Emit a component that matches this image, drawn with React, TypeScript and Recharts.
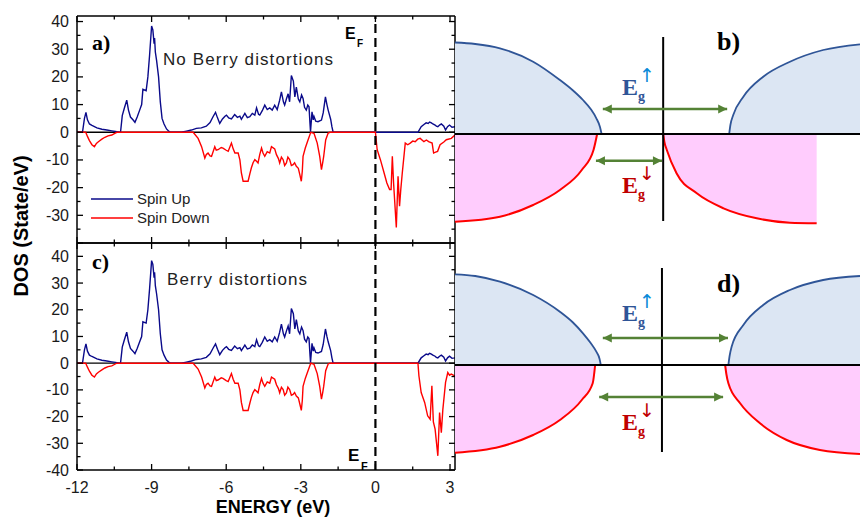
import { LineChart, Line, XAxis, YAxis, ReferenceLine, ComposedChart, Area } from "recharts"

type Pt = [number, number]

const SANS = "Liberation Sans, Arial, sans-serif"
const SERIF = "Liberation Serif, Times New Roman, serif"

const energyDomain: [number, number] = [-12, 3.2]
const energyTicks = [-12, -10.5, -9, -7.5, -6, -4.5, -3, -1.5, 0, 1.5, 3]
const dosTicks = [-40, -35, -30, -25, -20, -15, -10, -5, 0, 5, 10, 15, 20, 25, 30, 35, 40]
const zeroLevel: Pt[] = [[-12, 0], [3.2, 0]]

// spin up, valence part (same in both panels)
const upValence: Pt[] = [
  [-12, 0], [-11.78, 0], [-11.7, 5], [-11.64, 7.2], [-11.58, 4.5], [-11.5, 3], [-11.4, 2.5], [-11.2, 1.6],
  [-11.0, 1.1], [-10.8, 0.8], [-10.6, 0.5], [-10.45, 0.3], [-10.3, 0], [-10.25, 0], [-10.18, 6], [-10.1, 8.6],
  [-10.0, 11.6], [-9.93, 8], [-9.85, 5.5], [-9.75, 4.5], [-9.67, 3.6], [-9.58, 5.5], [-9.48, 8], [-9.4, 10],
  [-9.35, 15.5], [-9.22, 15], [-9.15, 20], [-9.08, 28], [-9.0, 38.4], [-8.95, 37], [-8.9, 32], [-8.88, 34],
  [-8.85, 29], [-8.8, 26], [-8.72, 20], [-8.65, 11], [-8.58, 5], [-8.5, 3], [-8.4, 1.2], [-8.3, 0.3], [-8.25, 0],
  [-7.8, 0], [-7.6, 0.4], [-7.4, 0.8], [-7.2, 1.4], [-7.0, 1.6], [-6.8, 2.2], [-6.65, 3.5], [-6.53, 5.6],
  [-6.43, 7.2], [-6.35, 5.2], [-6.26, 3.2], [-6.15, 4.8], [-6.05, 5.8], [-5.99, 6.2], [-5.9, 5.2], [-5.79, 4.8],
  [-5.66, 6.4], [-5.55, 5.4], [-5.45, 5.8], [-5.39, 4.7], [-5.25, 6.8], [-5.15, 5.3], [-5.05, 5.6], [-4.95, 6.8],
  [-4.85, 6.2], [-4.78, 8.8], [-4.7, 6.5], [-4.65, 6.2], [-4.55, 7.8], [-4.45, 9.8], [-4.35, 8.2], [-4.25, 8.8],
  [-4.15, 8], [-4.05, 9.8], [-3.95, 8.2], [-3.85, 11.6], [-3.78, 14.6], [-3.7, 11], [-3.65, 9.8], [-3.58, 12],
  [-3.51, 13.9], [-3.45, 11], [-3.38, 20.5], [-3.3, 18.5], [-3.24, 12.8], [-3.18, 16.3], [-3.1, 12], [-3.04, 11],
  [-2.97, 13.5], [-2.91, 12.2], [-2.85, 9], [-2.78, 8], [-2.72, 9.8], [-2.67, 9.2], [-2.63, 3], [-2.61, 0.2],
  [-2.57, 5], [-2.55, 7.4], [-2.5, 4.5], [-2.47, 5.7], [-2.4, 4], [-2.31, 3.8], [-2.17, 4.4], [-2.1, 7],
  [-2.01, 12.8], [-1.95, 10], [-1.9, 8], [-1.8, 4.7], [-1.75, 2], [-1.7, 0],
]

// spin up, conduction part
const upConduction: Pt[] = [
  [1.71, 0], [1.84, 2.0], [1.95, 2.8], [2.04, 3.4], [2.12, 3.2], [2.18, 3.7], [2.25, 3.4], [2.31, 3.0],
  [2.4, 2.6], [2.45, 2.2], [2.51, 2.0], [2.58, 2.6], [2.65, 3.0], [2.75, 2.2], [2.82, 0.8], [2.9, 2.0],
  [2.98, 2.6], [3.08, 1.8], [3.2, 2.0],
]

// spin down, valence part
const downValence: Pt[] = [
  [-12, 0], [-11.65, 0], [-11.58, -1.5], [-11.5, -3], [-11.4, -4.5], [-11.3, -5.2], [-11.22, -4], [-11.14, -3.4],
  [-11.0, -2.5], [-10.88, -1.8], [-10.75, -1.3], [-10.6, -1], [-10.48, -0.4], [-10.4, 0], [-7.33, 0],
  [-7.13, -2.2], [-6.99, -5.2], [-6.86, -9.3], [-6.8, -8], [-6.73, -7.5], [-6.65, -8.5], [-6.59, -8.7],
  [-6.46, -5.2], [-6.4, -6.5], [-6.33, -6.3], [-6.2, -5.5], [-6.13, -5.7], [-6.0, -6.5], [-5.92, -6.9],
  [-5.79, -3.9], [-5.72, -6], [-5.65, -7.5], [-5.52, -7.5], [-5.45, -10], [-5.39, -14.7], [-5.32, -17.7],
  [-5.12, -17.7], [-5.05, -15], [-4.99, -12.9], [-4.92, -11], [-4.85, -9.9], [-4.78, -10.5], [-4.72, -11.1],
  [-4.65, -8], [-4.58, -5.7], [-4.52, -7.5], [-4.45, -8.7], [-4.35, -7], [-4.25, -7.5], [-4.18, -5.2],
  [-4.05, -6], [-3.98, -8.1], [-3.9, -9.5], [-3.85, -11.1], [-3.78, -9], [-3.71, -9.9], [-3.65, -12],
  [-3.58, -11.1], [-3.52, -9], [-3.45, -9.9], [-3.38, -12], [-3.31, -11.7], [-3.25, -11], [-3.18, -12.3],
  [-3.1, -13], [-3.04, -15.3], [-2.98, -17.7], [-2.94, -14], [-2.91, -8.7], [-2.82, -5.7], [-2.71, -2.8],
  [-2.6, 0], [-2.47, -0.4], [-2.34, -3.9], [-2.24, -8.7], [-2.17, -13.5], [-2.12, -11], [-2.08, -8.7],
  [-2.0, -2.8], [-1.9, -0.3], [-1.83, 0],
]

// spin down, conduction: no distortion (a) vs Berry distortion (c)
const downConductionA: Pt[] = [
  [0, 0], [0.07, -6.3], [0.2, -9.9], [0.33, -14.1], [0.46, -18.3], [0.57, -20.7], [0.63, -20.7], [0.68, -8.7],
  [0.73, -18.3], [0.84, -34.4], [0.91, -15.9], [0.97, -26.7], [1.02, -20.7], [1.08, -14.7], [1.2, -3.9],
  [1.3, -4.5], [1.4, -3.9], [1.5, -3.2], [1.6, -3.4], [1.7, -2.5], [1.8, -2.2], [1.95, -3.4], [2.05, -2.8],
  [2.14, -3.4], [2.28, -3.9], [2.34, -7.5], [2.42, -7.2], [2.5, -6.9], [2.6, -4.5], [2.75, -3.5], [2.85, -2.7],
  [3.05, -2.2], [3.2, -1],
]
const downConductionC: Pt[] = [
  [1.71, 0], [1.75, -4.8], [1.84, -11], [1.98, -14.7], [2.1, -19.7], [2.2, -21], [2.27, -8.5], [2.33, -22],
  [2.4, -24.7], [2.51, -34.7], [2.58, -18.5], [2.65, -26], [2.71, -17.5], [2.82, -7.2], [2.91, -3.5],
  [2.98, -4.5], [3.05, -4.1], [3.2, -4.8],
]

// schematic band edges (x: 0..100 across the sketch, y: -100..100 around the Fermi line)
const bUpLeft: Pt[] = [[0, 91.5], [5, 90], [11.1, 85.7], [19.3, 72.3], [25.9, 54], [29, 44], [31.6, 34], [33.5, 25], [34.9, 15.7], [35.8, 7], [36.2, 0]]
const bUpRight: Pt[] = [[67.7, 0], [68, 9], [68.7, 19], [71.2, 37.3], [76.1, 57.3], [82.7, 72.3], [90.9, 84], [100, 89.7]]
const bDownLeft: Pt[] = [[0, -87.7], [11.1, -82.7], [19.3, -71], [25.9, -56], [31.3, -36], [34.2, -16], [35.1, 0]]
const bDownRight: Pt[] = [[51.4, 0], [51.7, -8], [52.3, -16], [54.7, -39.3], [59.7, -59.3], [66.3, -74.3], [74.5, -84.3], [82.7, -88.7], [89.3, -89.3]]
const bGapUp: Pt[] = [[36.5, 25], [67.2, 25]]
const bGapDown: Pt[] = [[34.8, -26.7], [51.1, -26.7]]
const bDivider: Pt[] = [[51.4, 97], [51.4, -87]]

const dUpLeft: Pt[] = [[0, 90.7], [5, 89], [11.1, 83.3], [19.3, 70], [25.9, 53.3], [29, 43], [31.6, 31.7], [33.5, 22], [34.9, 13.3], [35.7, 6], [36, 0]]
const dUpRight: Pt[] = [[67.5, 0], [67.8, 9], [68.3, 18.3], [71.2, 40], [76.1, 60], [82.7, 75], [90.9, 85], [100, 89]]
const dDownLeft: Pt[] = [[0, -87.7], [11.1, -81.7], [19.3, -70], [25.9, -55], [31.3, -35], [34, -18.3], [34.6, 0]]
const dDownRight: Pt[] = [[66.7, 0], [67, -9], [67.5, -18.3], [70.4, -38.3], [75.3, -58.3], [81.9, -75], [90.1, -85], [100, -89]]
const dGapUp: Pt[] = [[36.5, 27], [67.4, 27]]
const dGapDown: Pt[] = [[35.6, -32], [66.2, -32]]
const dDivider: Pt[] = [[51.1, 97], [51.1, -87]]

const toRows = (pts: Pt[]) => pts.map(([x, y]) => ({ x, y }))

const M = 4

type Side = "left" | "right" | "top" | "bottom"

function makeTick(side: Side, isMajor: (v: number) => boolean, showLabel: (v: number) => boolean) {
  return (props: any) => {
    const { x, y, payload } = props
    const v = payload.value
    const len = isMajor(v) ? 6 : 3.5
    const label = showLabel(v) ? String(v) : ""
    const txt = { fontFamily: SANS, fontSize: 16, fill: "#1a1a1a" }
    if (side === "left") {
      const ax = x + M
      return (
        <g>
          <line x1={ax} x2={ax + len} y1={y} y2={y} stroke="#000" strokeWidth={1.3} />
          {label && <text x={ax - 8} y={y + 5.5} textAnchor="end" {...txt}>{label}</text>}
        </g>
      )
    }
    if (side === "right") {
      const ax = x - M
      return <line x1={ax} x2={ax - len} y1={y} y2={y} stroke="#000" strokeWidth={1.3} />
    }
    if (side === "top") {
      const ay = y + M
      return <line x1={x} x2={x} y1={ay} y2={ay + len} stroke="#000" strokeWidth={1.3} />
    }
    const ay = y - M
    return (
      <g>
        <line x1={x} x2={x} y1={ay} y2={ay - len} stroke="#000" strokeWidth={1.3} />
        {label && <text x={x} y={ay + 23} textAnchor="middle" {...txt}>{label}</text>}
      </g>
    )
  }
}

const isMajorE = (v: number) => Math.abs(v % 3) < 1e-6
const isMajorD = (v: number) => v % 10 === 0

interface DosPanelProps {
  top: number
  height: number
  margin: { top: number; right: number; bottom: number; left: number }
  bottomHeight: number
  yDomain: [number, number]
  up: Pt[]
  down: Pt[]
  energyLabels: boolean
  hideDos: number[]
}

function DosPanel({ top, height, margin, bottomHeight, yDomain, up, down, energyLabels, hideDos }: DosPanelProps) {
  const axisLine = { stroke: "#000", strokeWidth: 1.5 }
  return (
    <div style={{ position: "absolute", left: 0, top }}>
      <LineChart width={460} height={height} margin={margin}>
        <XAxis
          xAxisId="b" type="number" dataKey="x" domain={energyDomain} allowDataOverflow ticks={energyTicks}
          interval={0} height={bottomHeight} tickSize={0} tickMargin={M} tickLine={false} axisLine={axisLine}
          tick={makeTick("bottom", isMajorE, (v) => energyLabels && isMajorE(v))}
        />
        <XAxis
          xAxisId="t" orientation="top" type="number" dataKey="x" domain={energyDomain} allowDataOverflow
          ticks={energyTicks} interval={0} height={2} tickSize={0} tickMargin={M} tickLine={false}
          axisLine={axisLine} tick={makeTick("top", isMajorE, () => false)}
        />
        <YAxis
          yAxisId="l" type="number" domain={yDomain} allowDataOverflow ticks={dosTicks} interval={0} width={40}
          tickSize={0} tickMargin={M} tickLine={false} axisLine={axisLine}
          tick={makeTick("left", isMajorD, (v) => isMajorD(v) && !hideDos.includes(v))}
        />
        <YAxis
          yAxisId="r" orientation="right" type="number" domain={yDomain} allowDataOverflow ticks={dosTicks}
          interval={0} width={2} tickSize={0} tickMargin={M} tickLine={false} axisLine={axisLine}
          tick={makeTick("right", isMajorD, () => false)}
        />
        <Line
          xAxisId="b" yAxisId="l" data={toRows(zeroLevel)} dataKey="y" type="linear" stroke="#000"
          strokeWidth={1.3} dot={false} isAnimationActive={false}
        />
        <Line
          xAxisId="b" yAxisId="l" data={toRows(up)} dataKey="y" type="linear" stroke="#0a0a8a"
          strokeWidth={1.4} dot={false} isAnimationActive={false}
        />
        <Line
          xAxisId="b" yAxisId="l" data={toRows(down)} dataKey="y" type="linear" stroke="#ff0000"
          strokeWidth={1.4} dot={false} isAnimationActive={false}
        />
        <ReferenceLine xAxisId="b" yAxisId="l" x={0} stroke="#000" strokeWidth={2.2} strokeDasharray="9 5" />
      </LineChart>
    </div>
  )
}

const arrowDot = (p: any) => {
  const { cx, cy, index } = p
  const dir = index === 0 ? -1 : 1
  return (
    <polygon
      key={`ah-${index}`}
      points={`${cx},${cy} ${cx - dir * 9},${cy - 4.5} ${cx - dir * 9},${cy + 4.5}`}
      fill="#548235"
    />
  )
}

interface GapProps {
  top: number
  upLeft: Pt[]
  upRight: Pt[]
  downLeft: Pt[]
  downRight: Pt[]
  gapUp: Pt[]
  gapDown: Pt[]
  divider: Pt[]
}

function GapSketch({ top, upLeft, upRight, downLeft, downRight, gapUp, gapDown, divider }: GapProps) {
  const blue = { fill: "#dce6f3", fillOpacity: 1, stroke: "#2f5597", strokeWidth: 1.8 }
  const pink = { fill: "#ffccfd", fillOpacity: 1, stroke: "#ff0000", strokeWidth: 2 }
  return (
    <div style={{ position: "absolute", left: 455, top }}>
      <ComposedChart width={405} height={200} margin={{ top: 0, right: 0, bottom: 0, left: 0 }}>
        <XAxis type="number" dataKey="x" domain={[0, 100]} allowDataOverflow hide />
        <YAxis type="number" domain={[-100, 100]} allowDataOverflow hide />
        <Area data={toRows(upLeft)} dataKey="y" type="monotone" baseValue={0} {...blue} isAnimationActive={false} />
        <Area data={toRows(upRight)} dataKey="y" type="monotone" baseValue={0} {...blue} isAnimationActive={false} />
        <Area data={toRows(downLeft)} dataKey="y" type="monotone" baseValue={0} {...pink} isAnimationActive={false} />
        <Area data={toRows(downRight)} dataKey="y" type="monotone" baseValue={0} {...pink} isAnimationActive={false} />
        <ReferenceLine y={0} stroke="#000" strokeWidth={2} />
        <ReferenceLine
          segment={[{ x: divider[0][0], y: divider[0][1] }, { x: divider[1][0], y: divider[1][1] }]}
          stroke="#000" strokeWidth={2}
        />
        <Line data={toRows(gapUp)} dataKey="y" stroke="#548235" strokeWidth={2.5} dot={arrowDot} isAnimationActive={false} />
        <Line data={toRows(gapDown)} dataKey="y" stroke="#548235" strokeWidth={2.5} dot={arrowDot} isAnimationActive={false} />
      </ComposedChart>
    </div>
  )
}

function GapLabel({ x, y, up }: { x: number; y: number; up: boolean }) {
  const main = up ? "#2f5597" : "#c00000"
  const arrow = up ? "#0a8ad8" : "#c00000"
  return (
    <g fontFamily={SERIF} fontWeight="bold">
      <text x={x} y={y} fontSize={24} fill={main}>E</text>
      <text x={x + 16} y={y + 6} fontSize={14} fill={main}>g</text>
      <text x={x + 17} y={y - 13} fontSize={19} fontFamily="DejaVu Sans" fontWeight="normal" fill={arrow}>
        {up ? "↑" : "↓"}
      </text>
    </g>
  )
}

export default function App() {
  return (
    <div style={{ position: "absolute", left: 0, top: 0, width: 860, height: 519, background: "#fff", overflow: "hidden" }}>
      <DosPanel
        top={0} height={245} margin={{ top: 14, right: 3, bottom: 0, left: 37 }} bottomHeight={2}
        yDomain={[-40, 42]} up={[...upValence, ...upConduction]} down={[...downValence, ...downConductionA]}
        energyLabels={false} hideDos={[-40]}
      />
      <DosPanel
        top={240} height={279} margin={{ top: 1, right: 3, bottom: 19, left: 37 }} bottomHeight={30}
        yDomain={[-40, 45]} up={[...upValence, ...upConduction]} down={[...downValence, ...downConductionC]}
        energyLabels={true} hideDos={[]}
      />
      <GapSketch
        top={34} upLeft={bUpLeft} upRight={bUpRight} downLeft={bDownLeft} downRight={bDownRight}
        gapUp={bGapUp} gapDown={bGapDown} divider={bDivider}
      />
      <GapSketch
        top={265} upLeft={dUpLeft} upRight={dUpRight} downLeft={dDownLeft} downRight={dDownRight}
        gapUp={dGapUp} gapDown={dGapDown} divider={dDivider}
      />
      <svg width={860} height={519} style={{ position: "absolute", left: 0, top: 0, pointerEvents: "none" }}>
        <text x={92} y={50} fontFamily={SERIF} fontWeight="bold" fontSize={22}>a)</text>
        <text x={92} y={269} fontFamily={SERIF} fontWeight="bold" fontSize={22}>c)</text>
        <text x={717} y={50} fontFamily={SERIF} fontWeight="bold" fontSize={26}>b)</text>
        <text x={717} y={292} fontFamily={SERIF} fontWeight="bold" fontSize={26}>d)</text>

        <text x={163} y={65} fontFamily={SANS} fontSize={17} fill="#222" textLength={170} lengthAdjust="spacing">
          No Berry distortions
        </text>
        <text x={167} y={285} fontFamily={SANS} fontSize={17} fill="#222" textLength={140} lengthAdjust="spacing">
          Berry distortions
        </text>

        <g fontFamily={SANS} fontWeight="bold">
          <text x={345} y={39} fontSize={16}>E</text>
          <text x={357} y={47} fontSize={10}>F</text>
          <text x={348} y={461} fontSize={17}>E</text>
          <text x={361} y={470} fontSize={11}>F</text>
        </g>

        <line x1={91} x2={133} y1={199} y2={199} stroke="#0a0a8a" strokeWidth={1.4} />
        <line x1={91} x2={133} y1={218} y2={218} stroke="#ff0000" strokeWidth={1.4} />
        <text x={137} y={204} fontFamily={SANS} fontSize={15} fill="#222">Spin Up</text>
        <text x={137} y={223} fontFamily={SANS} fontSize={15} fill="#222">Spin Down</text>

        <text
          x={28} y={226} transform="rotate(-90 28 226)" textAnchor="middle"
          fontFamily={SANS} fontWeight="bold" fontSize={20}
        >
          DOS (State/eV)
        </text>
        <text x={273} y={513} textAnchor="middle" fontFamily={SANS} fontWeight="bold" fontSize={18}>
          ENERGY (eV)
        </text>

        <GapLabel x={622} y={95} up />
        <GapLabel x={622} y={193} up={false} />
        <GapLabel x={622} y={321} up />
        <GapLabel x={622} y={430} up={false} />
      </svg>
    </div>
  )
}
